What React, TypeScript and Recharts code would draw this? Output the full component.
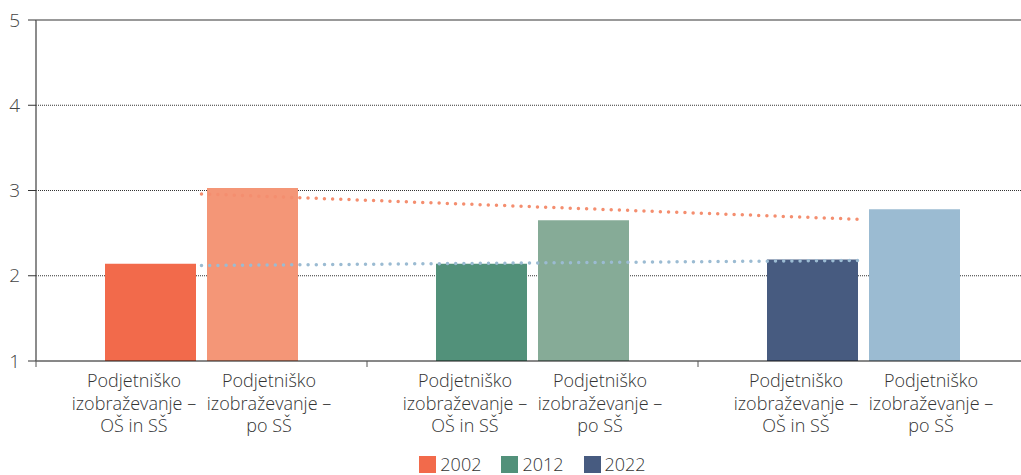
import React from 'react';
import { ComposedChart, Bar, Line, XAxis, YAxis, CartesianGrid, ReferenceLine, Legend, Cell } from 'recharts';

const groups = ['2002', '2012', '2022'];
const osValues = [2.14, 2.14, 2.19];
const poValues = [3.03, 2.65, 2.78];
const trendPo = [2.96, 2.81, 2.66];
const trendOs = [2.12, 2.15, 2.18];
const osColors = ['#F26A4B', '#52917A', '#475B80'];
const poColors = ['#F49677', '#86AB97', '#9BBBD2'];
const legendColors = ['#F26A4B', '#52917A', '#475B80'];
const labelOs = ['Podjetniško', 'izobraževanje –', 'OŠ in SŠ'];
const labelPo = ['Podjetniško', 'izobraževanje –', 'po SŠ'];
const yTicks = [1, 2, 3, 4, 5];
const gridValues = [2, 3, 4];

const data = groups.map((g, i) => ({
  group: g,
  os: osValues[i],
  po: poValues[i],
  tPo: trendPo[i],
  tOs: trendOs[i],
}));

const FONT = '"Open Sans", sans-serif';

function GroupTick(props: any) {
  const { x, y, payload } = props;
  const half = payload && payload.offset ? payload.offset : 165.5;
  const d = half * 0.408;
  const lines = (arr: string[], cx: number) => (
    <text x={cx} y={y} textAnchor="middle" fontFamily={FONT} fontWeight={300} fontSize={18} fill="#333">
      {arr.map((t, i) => (
        <tspan key={i} x={cx} y={y + 26 + i * 22.5}>{t}</tspan>
      ))}
    </text>
  );
  return (
    <g>
      <line x1={x - half} x2={x - half} y1={y} y2={y + 6} stroke="#555" strokeWidth={1} />
      {payload.index === groups.length - 1 && (
        <line x1={x + half} x2={x + half} y1={y} y2={y + 6} stroke="#555" strokeWidth={1} />
      )}
      {lines(labelOs, x - d)}
      {lines(labelPo, x + d)}
    </g>
  );
}

function LegendContent() {
  return (
    <div style={{ display: 'flex', justifyContent: 'center', fontFamily: FONT, fontWeight: 300, fontSize: 18, color: '#333', lineHeight: '20px' }}>
      {groups.map((g, i) => (
        <div key={g} style={{ display: 'flex', alignItems: 'center', marginRight: i < groups.length - 1 ? 20 : 0 }}>
          <div style={{ width: 17, height: 17, background: legendColors[i], marginRight: 4 }} />
          <span>{g}</span>
        </div>
      ))}
    </div>
  );
}

export default function App() {
  return (
    <div style={{ position: 'absolute', left: 0, top: 0, width: 1021, height: 475, overflow: 'hidden', background: '#fff' }}>
      <ComposedChart
        width={1029}
        height={478}
        data={data}
        margin={{ top: 20, right: 0, left: 0, bottom: 0 }}
        barGap={11}
      >
        <CartesianGrid horizontal vertical={false} horizontalValues={gridValues} stroke="#333" strokeDasharray="1 1" />
        <ReferenceLine y={5} stroke="#777" strokeWidth={1.5} />
        <XAxis
          dataKey="group"
          height={97}
          axisLine={{ stroke: '#111', strokeWidth: 1 }}
          tickLine={false}
          tickSize={0}
          tickMargin={0}
          interval={0}
          tick={<GroupTick />}
        />
        <YAxis
          width={36}
          domain={[1, 5]}
          ticks={yTicks}
          allowDataOverflow
          axisLine={{ stroke: '#666', strokeWidth: 1.5 }}
          tickLine={{ stroke: '#333' }}
          tickSize={8}
          tickMargin={8}
          tick={{ fontFamily: FONT, fontWeight: 300, fontSize: 19, fill: '#444' }}
        />
        <Bar dataKey="os" barSize={91} isAnimationActive={false}>
          {data.map((_, i) => <Cell key={i} fill={osColors[i]} />)}
        </Bar>
        <Bar dataKey="po" barSize={91} isAnimationActive={false}>
          {data.map((_, i) => <Cell key={i} fill={poColors[i]} />)}
        </Bar>
        <Line type="linear" dataKey="tPo" stroke="#F48E6F" strokeWidth={3.5} strokeLinecap="round" strokeDasharray="0 8.2" dot={false} activeDot={false} isAnimationActive={false} />
        <Line type="linear" dataKey="tOs" stroke="#9BBBD2" strokeWidth={3.5} strokeLinecap="round" strokeDasharray="0 8.2" dot={false} activeDot={false} isAnimationActive={false} />
        <Legend verticalAlign="bottom" wrapperStyle={{ left: 36, width: 993, bottom: 4 }} content={<LegendContent />} />
      </ComposedChart>
    </div>
  );
}
